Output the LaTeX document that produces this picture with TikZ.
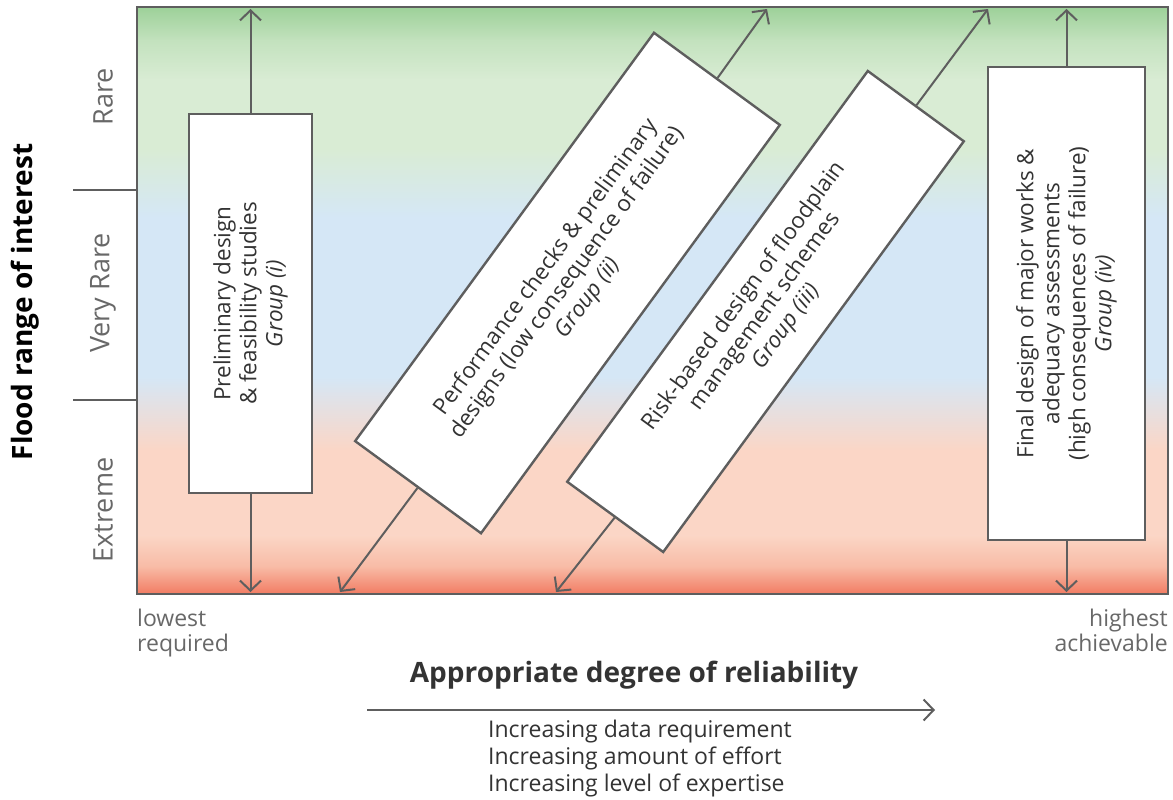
\documentclass[tikz,border=0pt]{standalone}
\usepackage{fontspec}
\setmainfont{Open Sans}
\usepackage{xcolor}
\usepackage{tikz}
\usetikzlibrary{arrows.meta}
\definecolor{framegray}{HTML}{5E5E5E}
\definecolor{boxtext}{HTML}{333333}
\definecolor{labelgray}{HTML}{686868}
\definecolor{topgreen}{HTML}{9DD199}
\definecolor{midgreen}{HTML}{C3E2BE}
\definecolor{palegreen}{HTML}{D9ECD4}
\definecolor{paleblue}{HTML}{D5E7F6}
\definecolor{salmon}{HTML}{FBD6C6}
\definecolor{midred}{HTML}{F8BBA6}
\definecolor{bottomred}{HTML}{F27C63}

\begin{document}
\begin{tikzpicture}[x=1pt,y=-1pt,
  box/.style={draw=framegray,line width=2.4pt,fill=white,align=center,text=boxtext,
    inner sep=0pt,font=\fontsize{22.5}{26}\selectfont},
  link/.style={framegray,line width=2pt,-{Straight Barb[length=10pt,width=21pt]}},
  band/.style={labelgray,font=\fontsize{27}{30}\selectfont,rotate=90},
  endlabel/.style={labelgray,font=\fontsize{23}{25}\selectfont},
  note/.style={boxtext,font=\fontsize{23}{27}\selectfont,align=left}]
\useasboundingbox (0,0) rectangle (1173,800);

\shade[top color=topgreen,bottom color=midgreen] (137,7) rectangle (1168,41);
\shade[top color=midgreen,bottom color=palegreen] (137,40.5) rectangle (1168,80);
\fill[palegreen] (137,79.5) rectangle (1168,149);
\shade[top color=palegreen,bottom color=paleblue] (137,148.5) rectangle (1168,218);
\fill[paleblue] (137,217.5) rectangle (1168,377);
\shade[top color=paleblue,bottom color=salmon] (137,376.5) rectangle (1168,450);
\fill[salmon] (137,449.5) rectangle (1168,536);
\shade[top color=salmon,bottom color=midred] (137,535.5) rectangle (1168,567);
\shade[top color=midred,bottom color=bottomred] (137,566.5) rectangle (1168,594);
\draw[framegray,line width=2.5pt] (137,7) rectangle (1168,594);

\draw[framegray,line width=2pt] (73,190) -- (137,190);
\draw[framegray,line width=2pt] (73,400) -- (137,400);
\node[band] (rare) at (103,97) {Rare};
\node[band] (veryrare) at (103,293) {Very Rare};
\node[band] (extreme) at (103,510) {Extreme};
\node[rotate=90,font=\fontsize{28}{32}\selectfont\bfseries] (yaxis) at (25,302) {Flood range of interest};

\node[box,rotate=90,minimum width=379,minimum height=123] (gi) at (250.5,303.5)
  {Preliminary design\\ \& feasibility studies\\ \textit{Group (i)}};
\node[box,rotate=53.8,minimum width=506,minimum height=156] (gii) at (567.5,283)
  {Performance checks \& preliminary\\ designs (low consequence of failure)\\ \textit{Group (ii)}};
\node[box,rotate=53.8,minimum width=509,minimum height=119] (giii) at (765.5,311.5)
  {Risk-based design of floodplain\\ management schemes\\ \textit{Group (iii)}};
\node[box,rotate=90,minimum width=473,minimum height=157] (giv) at (1066.5,303.5)
  {Final design of major works \&\\ adequacy assessments\\ (high consequences of failure)\\ \textit{Group (iv)}};

\coordinate (gitop) at (250.5,9);
\coordinate (gibot) at (250.5,592);
\coordinate (giitop) at (767,9);
\coordinate (giibot) at (340,592);
\coordinate (giiitop) at (988,9);
\coordinate (giiibot) at (556,592);
\coordinate (givtop) at (1066.5,9);
\coordinate (givbot) at (1066.5,592);
\draw[link] (gi.east) -- (gitop);
\draw[link] (gi.west) -- (gibot);
\draw[link] (gii.east) -- (giitop);
\draw[link] (gii.west) -- (giibot);
\draw[link] (giii.east) -- (giiitop);
\draw[link] (giii.west) -- (giiibot);
\draw[link] (giv.east) -- (givtop);
\draw[link] (giv.west) -- (givbot);

\node[endlabel,anchor=north west,align=left,inner sep=0pt] (lowest) at (137,609) {lowest\\required};
\node[endlabel,anchor=north east,align=right,inner sep=0pt] (highest) at (1168,609) {highest\\achievable};

\node[boxtext,font=\fontsize{28}{32}\selectfont\bfseries] (xaxis) at (634,675) {Appropriate degree of reliability};
\coordinate (axstart) at (367,710);
\coordinate (axend) at (935,710);
\draw[link] (axstart) -- (axend);
\node[note,anchor=north west,inner sep=0pt] (effort) at (488,720)
  {Increasing data requirement\\ Increasing amount of effort\\ Increasing level of expertise};
\end{tikzpicture}
\end{document}
